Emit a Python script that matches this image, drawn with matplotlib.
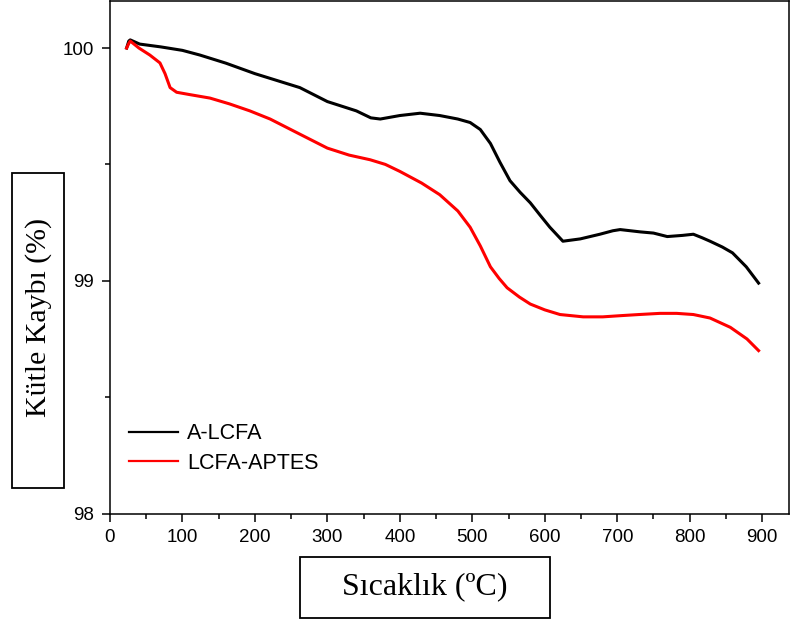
"""TGA curves: mass loss vs temperature for A-LCFA and LCFA-APTES."""

import matplotlib

matplotlib.use("Agg")
import matplotlib.pyplot as plt
from matplotlib.patches import Rectangle
from matplotlib.ticker import MultipleLocator

# A-LCFA
temp_a = [23, 26, 28, 41, 70, 100, 124, 160, 200, 262, 300, 340, 360, 373, 400,
          428, 455, 480, 497, 511, 525, 538, 552, 566, 580, 594, 607, 625, 649,
          676, 694, 704, 732, 750, 769, 790, 805, 817, 828, 845, 859, 878, 895]
mass_a = [100.0, 100.03, 100.035, 100.017, 100.005, 99.99, 99.97, 99.935, 99.89,
          99.83, 99.77, 99.73, 99.70, 99.695, 99.71, 99.72, 99.71, 99.695, 99.68,
          99.65, 99.59, 99.51, 99.43, 99.38, 99.335, 99.28, 99.23, 99.17, 99.18,
          99.20, 99.215, 99.22, 99.21, 99.205, 99.19, 99.195, 99.20, 99.185, 99.17,
          99.145, 99.12, 99.06, 98.99]

# LCFA-APTES
temp_b = [23, 26, 28, 40, 55, 69, 76, 83, 92, 110, 138, 165, 193, 221, 262, 300,
          330, 359, 380, 400, 430, 455, 480, 497, 511, 525, 537, 548, 565, 580,
          600, 621, 653, 680, 704, 730, 759, 782, 805, 828, 856, 879, 895]
mass_b = [100.0, 100.02, 100.03, 100.0, 99.97, 99.936, 99.89, 99.83, 99.81, 99.80,
          99.785, 99.76, 99.73, 99.695, 99.63, 99.57, 99.54, 99.52, 99.50, 99.47,
          99.42, 99.37, 99.30, 99.23, 99.15, 99.06, 99.01, 98.97, 98.93, 98.90,
          98.875, 98.855, 98.845, 98.845, 98.85, 98.855, 98.86, 98.86, 98.855,
          98.84, 98.80, 98.75, 98.70]

series_labels = ["A-LCFA", "LCFA-APTES"]
x_label = "Sıcaklık (ºC)"
y_label = "Kütle Kaybı (%)"

SANS = ["Liberation Sans", "DejaVu Sans"]
SERIF = ["Liberation Serif", "DejaVu Serif"]

fig = plt.figure(figsize=(7.91, 6.22), dpi=100)
ax = fig.add_axes([0.139, 0.1744, 0.8585, 0.8232])

ax.plot(temp_a, mass_a, color="black", lw=2.2, label=series_labels[0],
        solid_joinstyle="round")
ax.plot(temp_b, mass_b, color="#ff0000", lw=2.2, label=series_labels[1],
        solid_joinstyle="round")

ax.set_xlim(0, 937)
ax.set_ylim(98, 100.2)
ax.xaxis.set_major_locator(MultipleLocator(100))
ax.xaxis.set_minor_locator(MultipleLocator(50))
ax.yaxis.set_major_locator(MultipleLocator(1))
ax.yaxis.set_minor_locator(MultipleLocator(0.5))
ax.tick_params(which="both", direction="out", width=1.1, top=False, right=False)
ax.tick_params(which="major", length=5.5, pad=6)
ax.tick_params(which="minor", length=3.5)
for lbl in ax.get_xticklabels() + ax.get_yticklabels():
    lbl.set_family(SANS)
    lbl.set_fontsize(13.5)
for sp in ax.spines.values():
    sp.set_linewidth(1.1)

leg = ax.legend(loc="upper left", bbox_to_anchor=(0.028, 0.176), frameon=False,
                prop={"family": SANS, "size": 15.5}, handlelength=2.3,
                handletextpad=0.4, labelspacing=0.38, borderpad=0,
                borderaxespad=0)
for line in leg.get_lines():
    line.set_linewidth(1.6)

# boxed axis titles
fig.patches.append(Rectangle((0.0152, 0.2154), 0.0657, 0.5065, transform=fig.transFigure,
                             fill=False, edgecolor="black", lw=1.3))
fig.text(0.049, 0.4904, y_label, rotation=90, ha="center", va="center",
         family=SERIF, fontsize=21.5)
fig.patches.append(Rectangle((0.379, 0.0064), 0.316, 0.0981, transform=fig.transFigure,
                             fill=False, edgecolor="black", lw=1.3))
fig.text(0.537, 0.0563, x_label, ha="center", va="center", family=SERIF, fontsize=23)

fig.savefig("out.png", dpi=100, facecolor="white")
